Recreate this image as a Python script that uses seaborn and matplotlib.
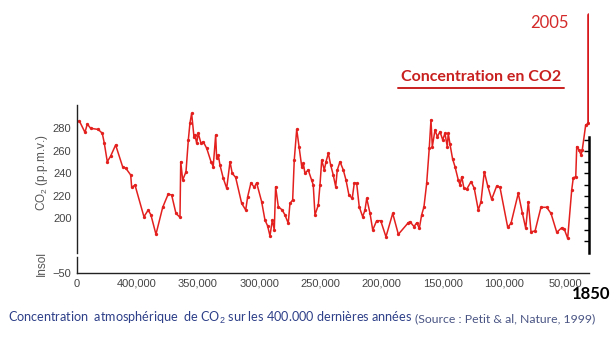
import matplotlib
matplotlib.use("Agg")
import matplotlib.pyplot as plt
from matplotlib.lines import Line2D
import seaborn as sns
import pandas as pd

# ---- data (ages in thousands of years before present, CO2 in ppmv) ----
age_kyr = [446.8, 442.1, 440.2, 437.5, 431.3, 428.0, 426.4, 423.9, 421.1, 417.1,
           411.4, 408.7, 404.8, 404.0, 401.3, 394.0, 390.5, 388.3, 384.2, 378.7,
           374.2, 371.4, 367.9, 364.6, 364.0, 362.4, 359.7, 357.8, 356.5, 355.1,
           353.2, 352.4, 351.0, 349.7, 347.5, 345.6, 342.8, 339.3, 337.5, 335.5,
           334.7, 333.4, 332.0, 329.3, 326.5, 323.8, 322.0, 319.2, 314.3, 311.0,
           309.4, 306.7, 304.0, 302.1, 298.0, 295.3, 293.1, 291.2, 289.3, 287.7,
           286.6, 284.4, 281.2, 279.0, 276.3, 274.9, 272.7, 271.4, 269.4, 267.5,
           265.3, 264.0, 262.7, 260.0, 257.2, 255.9, 254.5, 251.8, 250.4, 249.0,
           246.9, 245.5, 243.6, 241.7, 239.6, 237.6, 236.3, 234.1, 231.4, 229.2,
           226.8, 224.1, 222.4, 220.5, 218.4, 215.6, 213.7, 212.3, 209.6, 207.4,
           204.2, 200.9, 196.6, 191.1, 186.5, 178.4, 177.0, 173.7, 171.5, 169.4,
           167.5, 165.6, 163.4, 161.3, 159.9, 158.8, 156.6, 154.7, 152.5, 150.3,
           148.5, 146.6, 145.8, 144.4, 142.3, 140.3, 137.6, 136.2, 134.8, 133.0,
           130.8, 127.2, 124.6, 121.3, 119.1, 116.4, 113.6, 110.4, 106.3, 103.6,
           97.3, 94.6, 88.7, 85.4, 82.6, 80.5, 78.3, 75.0, 70.2, 65.5,
           62.0, 57.3, 53.3, 51.1, 48.4, 45.1, 43.8, 41.8, 41.0, 39.2,
           37.5, 36.5, 33.7, 31.6]
co2_ppm = [286.8, 276.4, 283.8, 280.0, 279.0, 275.6, 267.2, 250.3, 255.4, 265.2,
           245.9, 244.4, 238.5, 227.5, 229.6, 201.4, 207.4, 203.0, 185.8, 209.8,
           221.6, 220.7, 204.4, 200.9, 250.3, 234.0, 241.4, 269.6, 284.4, 293.3,
           272.5, 274.0, 266.7, 275.6, 266.7, 268.0, 262.2, 250.3, 246.0, 274.0,
           253.3, 256.3, 247.4, 235.6, 226.7, 250.3, 240.0, 236.4, 213.3, 207.4,
           219.2, 231.6, 227.5, 231.6, 214.8, 198.5, 193.2, 184.3, 198.5, 189.6,
           228.1, 210.3, 207.4, 203.0, 195.6, 213.3, 216.3, 251.8, 279.1, 263.7,
           245.9, 248.9, 240.0, 243.0, 234.0, 229.6, 203.0, 211.8, 230.0, 251.8,
           243.0, 250.3, 257.8, 247.4, 238.5, 228.1, 243.0, 250.3, 243.0, 234.0,
           220.7, 217.8, 231.6, 231.1, 210.3, 201.4, 207.4, 217.8, 204.4, 189.6,
           197.9, 197.9, 183.6, 204.4, 185.8, 196.1, 197.0, 192.6, 196.1, 191.1,
           203.0, 210.3, 231.1, 262.2, 287.4, 263.7, 278.5, 272.5, 277.0, 269.6,
           275.6, 263.7, 275.6, 266.0, 253.0, 245.9, 234.0, 229.6, 237.0, 226.7,
           225.8, 232.6, 226.7, 207.4, 214.8, 241.4, 228.7, 216.9, 228.7, 227.5,
           192.0, 195.6, 222.2, 205.0, 191.1, 214.8, 188.1, 188.7, 209.8, 209.8,
           204.4, 187.6, 191.6, 190.2, 182.2, 225.2, 236.1, 237.0, 263.7, 260.7,
           256.3, 260.7, 283.0, 284.4]

# modern rise (1850 -> 2005), drawn at the right edge
spike_age = [31.3, 31.3]
spike_ppm = [285.0, 381.0]

co2_ticks = [200, 220, 240, 260, 280]
x_tick_pos = [448.6, 400, 350, 300, 250, 200, 150, 100, 50]
x_tick_labels = ["0", "400,000", "350,000", "300,000", "250,000",
                 "200,000", "150,000", "100,000", "50,000"]

df = pd.DataFrame({"age": age_kyr, "co2": co2_ppm})
df_spike = pd.DataFrame({"age": spike_age, "co2": spike_ppm})

# ---- style ----
sns.set_theme(style="white")
plt.rcParams["font.family"] = ["Liberation Sans", "DejaVu Sans"]
plt.rcParams["mathtext.fontset"] = "custom"
plt.rcParams["mathtext.rm"] = "Liberation Sans"

W, H = 615, 351
fig = plt.figure(figsize=(W / 100, H / 100), dpi=100)
fig.patch.set_facecolor("white")

def fx(px):
    return px / W

def fy(py):
    return 1 - py / H

RED = "#e3201e"
GRAY = "#444444"

# main CO2 axes
ax = fig.add_axes([fx(77), fy(253), fx(589) - fx(77), fy(0) - fy(253)])
ax.set_facecolor("none")
sns.lineplot(data=df, x="age", y="co2", ax=ax, sort=False, color=RED,
             lw=1.1, marker="o", markersize=2.4, markeredgewidth=0,
             estimator=None)
sns.lineplot(data=df_spike, x="age", y="co2", ax=ax, sort=False,
             color="#d8191c", lw=2.6, estimator=None)
ax.set_xlim(448.6, 31.0)
ax.set_ylim(169.2, 394.0)
ax.set_xlabel("")
ax.set_ylabel("")
ax.set_xticks([])
ax.set_yticks(co2_ticks)
ax.tick_params(axis="y", which="both", left=False, length=0, pad=4,
               labelsize=8, labelcolor=GRAY)
for s in ["top", "bottom"]:
    ax.spines[s].set_visible(False)
ax.spines["left"].set_bounds(169.2, 300.7)
ax.spines["left"].set_color("#222222")
ax.spines["left"].set_linewidth(1.0)
ax.spines["right"].set_bounds(169.2, 272.3)
ax.spines["right"].set_color("black")
ax.spines["right"].set_linewidth(1.8)

# right ticks (no labels)
axr = ax.twinx()
axr.set_ylim(ax.get_ylim())
axr.set_yticks(list(range(180, 280, 10)))
axr.set_yticklabels([])
axr.tick_params(axis="y", direction="in", length=3.5, width=1, color="black")
for s in axr.spines.values():
    s.set_visible(False)

# insolation strip with x axis
axi = fig.add_axes([fx(77), fy(273), fx(589) - fx(77), fy(257) - fy(273)])
axi.set_facecolor("none")
axi.set_xlim(448.6, 31.0)
axi.set_ylim(-50, 0)
axi.set_yticks([-50])
axi.set_yticklabels(["\u221250"])
axi.tick_params(axis="y", length=0, pad=4, labelsize=8, labelcolor=GRAY)
axi.set_xticks(x_tick_pos)
axi.set_xticklabels(x_tick_labels)
axi.set_xticks(list(range(440, 30, -10)), minor=True)
axi.tick_params(axis="x", which="major", direction="in", length=6, width=1,
                color="#222222", labelsize=8, labelcolor=GRAY, pad=4)
axi.tick_params(axis="x", which="minor", direction="in", length=3, width=0.8,
                color="#222222")
for s in ["top", "right"]:
    axi.spines[s].set_visible(False)
axi.spines["left"].set_color("#222222")
axi.spines["bottom"].set_color("#222222")
axi.spines["left"].set_linewidth(1.0)
axi.spines["bottom"].set_linewidth(1.0)

# axis labels
fig.text(fx(42), fy(173), "CO$_2$ (p.p.m.v.)", rotation=90, ha="center",
         va="center", fontsize=8.5, color="#555555")
fig.text(fx(42), fy(264), "Insol", rotation=90, ha="center", va="center",
         fontsize=8.5, color="#555555")

# annotations
fig.text(fx(549), fy(23), "2005", ha="center", va="center", fontsize=12,
         color="#d42a2a", family=["Lato", "DejaVu Sans"])
fig.text(fx(481), fy(77), "Concentration en CO2", ha="center", va="center",
         fontsize=11.5, color="#c8201f", fontweight="bold",
         family=["Lato", "DejaVu Sans"])
fig.add_artist(Line2D([fx(398), fx(564)], [fy(87.5), fy(87.5)],
                      color="#c8201f", lw=1.4))
fig.text(fx(591), fy(294), "1850", ha="center", va="center", fontsize=12,
         color="black", fontweight="bold", family=["Lato", "DejaVu Sans"])

# caption
cap = fig.text(fx(8), fy(322), "Concentration  atmosphérique  de CO$_2$ sur les 400.000 dernières années",
               ha="left", va="baseline", fontsize=9.1, color="#2d3f88",
               family=["Lato", "DejaVu Sans"])
fig.canvas.draw()
bb = cap.get_window_extent()
fig.text(bb.x1 / W + 3 / W, fy(322), "(Source : Petit & al, Nature, 1999)",
         ha="left", va="baseline", fontsize=8.8, color="#4a5584",
         family=["Lato", "DejaVu Sans"])

fig.savefig("out.png", dpi=100, facecolor="white")
